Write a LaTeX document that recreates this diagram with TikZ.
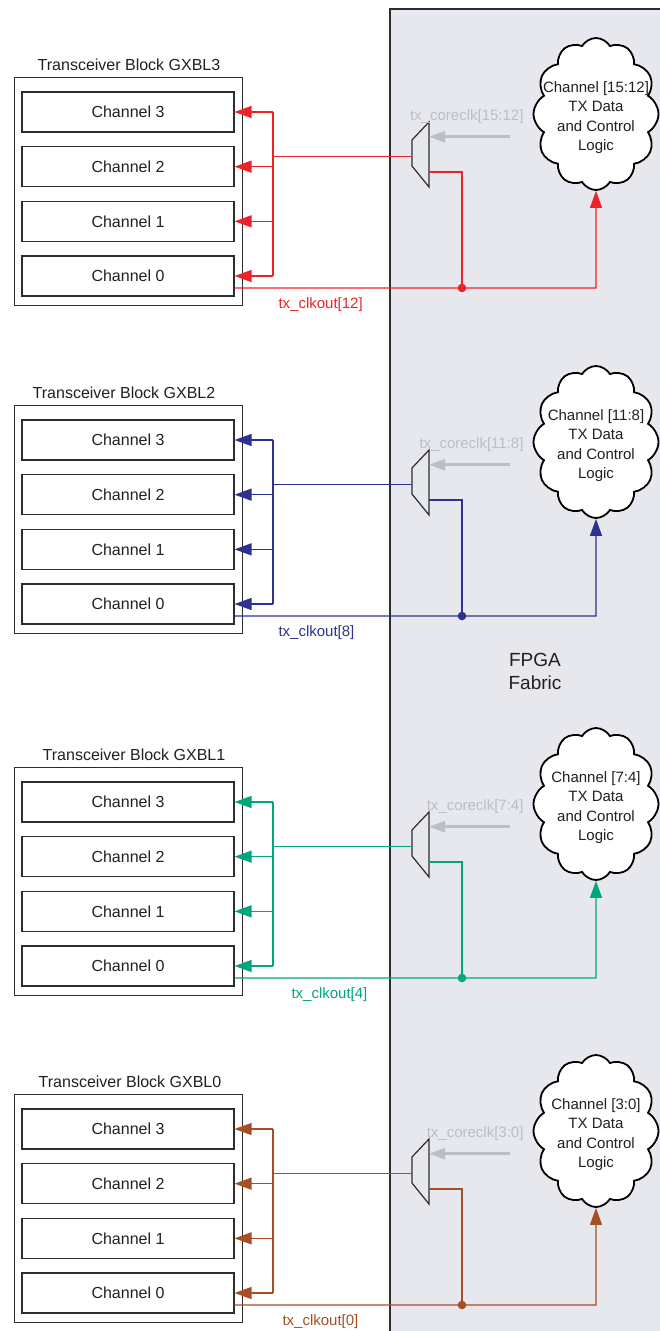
\documentclass[tikz,border=0pt]{standalone}
\usepackage{fontspec}
\setmainfont{Liberation Sans}
\usetikzlibrary{shapes.symbols,arrows.meta}

\definecolor{txred}{RGB}{237,34,40}
\definecolor{txblue}{RGB}{46,49,146}
\definecolor{txgreen}{RGB}{0,166,126}
\definecolor{txbrown}{RGB}{166,78,36}
\definecolor{coregray}{RGB}{188,190,195}
\definecolor{fabric}{RGB}{230,232,238}
\definecolor{boxline}{RGB}{45,45,45}
\definecolor{textdark}{RGB}{35,31,32}

\tikzset{
  chanbox/.style={draw=boxline, line width=1.1pt, minimum width=212, minimum height=40,
    text=textdark, font=\fontsize{16}{19}\selectfont},
  blockbox/.style={draw=boxline, line width=1.2pt, minimum width=228, minimum height=228},
  clkwire/.style={line width=1.3pt},
  clkarrow/.style={line width=1.3pt, -{Triangle[length=17pt,width=12pt]}},
  logiccloud/.style={cloud, cloud puffs=12, cloud puff arc=120, draw=black, line width=1.8pt,
    fill=white, minimum width=125, minimum height=152, inner sep=0pt},
  cloudtext/.style={align=center, text=textdark, font=\fontsize{15}{19.5}\selectfont},
  smalllbl/.style={font=\fontsize{15}{18}\selectfont},
}

\begin{document}
\begin{tikzpicture}[x=1pt,y=-1pt]
\useasboundingbox (0,0) rectangle (659,1331);

% FPGA fabric
\fill[fabric] (390,9) rectangle (662,1334);
\draw[boxline, line width=1.2pt] (390,1334) -- (390,9) -- (662,9);
\node[align=center, text=textdark, font=\fontsize{19}{23}\selectfont] (fab) at (535,671) {FPGA\\Fabric};

\foreach \g/\oy/\col/\clk/\core/\tx/\lx in {3/0/txred/12/15:12/129/275,
    2/328/txblue/8/11:8/124/275, 1/690/txgreen/4/7:4/134/288, 0/1017/txbrown/0/3:0/130/279}{
  % transceiver block
  \node[text=textdark, font=\fontsize{16}{19}\selectfont] (ttl\g) at (\tx,65+\oy) {Transceiver Block GXBL\g};
  \node[blockbox] (blk\g) at (128.75,191.7+\oy) {};
  \foreach \c in {3,2,1,0}
    \node[chanbox] (ch\g\c) at (128,{112+(3-\c)*54.67+\oy}) {Channel \c};

  \coordinate (bus\g) at (273,156.7+\oy);
  \coordinate (muxin\g) at (412,156.7+\oy);
  \coordinate (muxout\g) at (429,172+\oy);
  \coordinate (tap\g) at (462,288+\oy);
  \coordinate (coresrc\g) at (510,136.7+\oy);
  \coordinate (coredst\g) at (429,136.7+\oy);

  % core logic
  \node[logiccloud] (cl\g) at (596,114+\oy) {};
  \node[cloudtext] (cltxt\g) at (596,117.5+\oy) {Channel [\core]\\TX Data\\and Control\\Logic};

  % mux
  \draw[boxline, line width=1.2pt] (412,140+\oy) -- (429,122+\oy) -- (429,187+\oy) -- (412,166+\oy) -- cycle;
  \draw[coregray, line width=2.6pt, -{Triangle[length=16pt,width=11pt]}] (coresrc\g) -- (coredst\g);
  \node[coregray, anchor=east, smalllbl] (corelbl\g) at (527,117+\oy) {tx\_coreclk[\core]};

  % clock tree
  \draw[\col, clkwire] (muxin\g) -- (bus\g);
  \draw[\col, clkwire] (ch\g3.east -| bus\g) -- (ch\g0.east -| bus\g);
  \foreach \c in {3,2,1,0}
    \draw[\col, clkarrow] (ch\g\c.east -| bus\g) -- (ch\g\c.east);
  \draw[\col, clkwire] (muxout\g) -| (tap\g);
  \draw[\col, clkarrow] ([yshift=-12pt]ch\g0.east) -- (tap\g) -| (cl\g.south);
  \fill[\col] (tap\g) circle (4.3);
  \node[text=\col, anchor=west, smalllbl] (clklbl\g) at (\lx,305+\oy) {tx\_clkout[\clk]};
}
\end{tikzpicture}
\end{document}
